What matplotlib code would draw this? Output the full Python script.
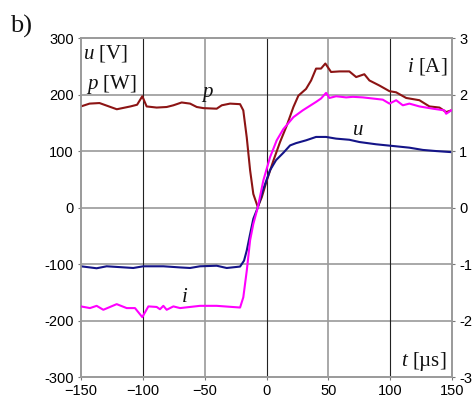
import matplotlib
matplotlib.use("Agg")
import matplotlib.pyplot as plt

plt.rcParams['font.family'] = ['Liberation Sans', 'DejaVu Sans']
plt.rcParams['mathtext.fontset'] = 'custom'
plt.rcParams['mathtext.rm'] = 'Liberation Serif'
plt.rcParams['mathtext.it'] = 'Liberation Serif:italic'

# power p [W]
t_p = [-150, -143, -135, -121, -110, -104.6, -100.4, -96.9, -88.8, -80.7, -75.3,
       -68.6, -61.8, -56.4, -51, -40.3, -36.2, -29.5, -21.4, -18.8, -16, -13.3,
       -10.7, -7.1, -3.9, 0.2, 5.5, 10.9, 16.3, 21.7, 25.7, 31.9, 36, 40, 44,
       47.5, 52.1, 58.9, 66.9, 72.4, 79, 83.1, 91.2, 99.3, 104.7, 112.8, 123.5,
       131.6, 139.7, 145.1, 149.2]
p_w = [179, 184, 185, 174, 179, 182, 197, 179, 177, 178, 181,
       186, 184, 178, 176, 175, 181, 184, 183, 172, 124, 66,
       24, 1, 18, 48, 83, 116, 145, 178, 198, 210, 225, 246, 246,
       255, 240, 241, 241, 231, 236, 225, 216, 206, 204, 194, 190,
       179, 177, 169, 172]

# current i [A]
t_i = [-150, -142.7, -137.3, -131.9, -121.1, -113, -106.3, -100.4, -95.5, -88.8,
       -86.1, -83.4, -80.7, -75.3, -69.9, -53.8, -40.3, -21.4, -18.8, -16, -13.3,
       -10.7, -7.1, -2.6, 2.8, 8.2, 13.6, 21.7, 29.2, 40, 44, 48.1, 50.8, 56.2,
       64.3, 69.7, 77.8, 85.9, 93.9, 99.3, 104.7, 110.1, 115.4, 123.5, 134.4,
       143.7, 145.1, 150]
i_a = [-1.75, -1.78, -1.74, -1.81, -1.71, -1.78, -1.78, -1.94, -1.75, -1.76,
       -1.80, -1.74, -1.81, -1.75, -1.78, -1.74, -1.74, -1.77, -1.59, -1.12, -0.58,
       -0.29, 0.0, 0.48, 0.89, 1.19, 1.39, 1.60, 1.72, 1.87, 1.93, 2.03, 1.94, 1.97,
       1.95, 1.96, 1.95, 1.93, 1.91, 1.84, 1.90, 1.81, 1.84, 1.79, 1.75,
       1.72, 1.66, 1.73]

# voltage u [V]
t_u = [-150, -137.3, -129.2, -107.7, -99.6, -83.4, -69.9, -61.8, -53.8, -40.3,
       -32.2, -21.4, -18.2, -16, -13.3, -10.7, -7.1, -2.6, 2.8, 7.7, 13.6, 19,
       23.8, 31.9, 40, 48.1, 56.2, 66.9, 75, 88.5, 102, 115.4, 126.3, 137, 150]
u_v = [-104, -107.5, -104, -107, -104, -104, -106, -107, -104, -103,
       -107, -104.5, -94, -76, -47, -20, 0, 33, 66, 84, 97, 110,
       114, 119, 125, 125, 122, 120, 116, 112, 109, 106, 102, 100, 98]

x_ticks = [-150, -100, -50, 0, 50, 100, 150]
y_ticks = [-300, -200, -100, 0, 100, 200, 300]
i_ticks = [-3, -2, -1, 0, 1, 2, 3]

fig = plt.figure(figsize=(4.76, 4.03), dpi=100)
ax = fig.add_axes([0.170, 0.0645, 0.780, 0.841])
ax2 = ax.twinx()

ax.set_xlim(-150, 150)
ax.set_ylim(-300, 300)
ax2.set_ylim(-3, 3)

# grid: horizontal gray, vertical alternating black/gray
for y in y_ticks[1:-1]:
    ax.axhline(y, color='#9a9a9a', lw=1.2, zorder=0)
for x in x_ticks[1:-1]:
    if x % 100 == 0:
        ax.axvline(x, color='#222222', lw=0.8, zorder=0)
    else:
        ax.axvline(x, color='#9a9a9a', lw=1.2, zorder=0)

ax.plot(t_p, p_w, color='#8c1414', lw=1.5, zorder=3)
ax.plot(t_u, u_v, color='#141488', lw=1.5, zorder=3)
ax2.plot(t_i, i_a, color='#ff00ff', lw=1.5, zorder=3)

ax.set_xticks(x_ticks)
ax.set_yticks(y_ticks)
ax2.set_yticks(i_ticks)
ax.set_yticklabels([str(v) for v in y_ticks])
ax2.set_yticklabels([str(v) for v in i_ticks])
for a in (ax, ax2):
    a.tick_params(labelsize=10.5, length=2, width=0.8, color='#777777', pad=3)
    for s in a.spines.values():
        s.set_color('#9a9a9a')
        s.set_linewidth(1.2)

serif = dict(family='Liberation Serif', fontsize=15, color='#111111')
ax.text(-148.5, 292, r'$u$ [V]', va='top', ha='left', **serif)
ax.text(-146, 238, r'$p$ [W]', va='top', ha='left', **serif)
ax.text(-48, 196, r'$p$', ha='center', va='baseline', **serif)
ax.text(74, 128, r'$u$', ha='center', va='baseline', **serif)
ax.text(-66, -168, r'$i$', ha='center', va='baseline', **serif)
ax.text(146, 240, r'$i$ [A]', ha='right', va='baseline', **serif)
ax.text(145, -280, r'$t$ [µs]', ha='right', va='baseline', **serif)
fig.text(0.02, 0.962, 'b)', family='Liberation Serif', fontsize=19,
         ha='left', va='top', color='#111111')

fig.savefig('out.png', dpi=100)
